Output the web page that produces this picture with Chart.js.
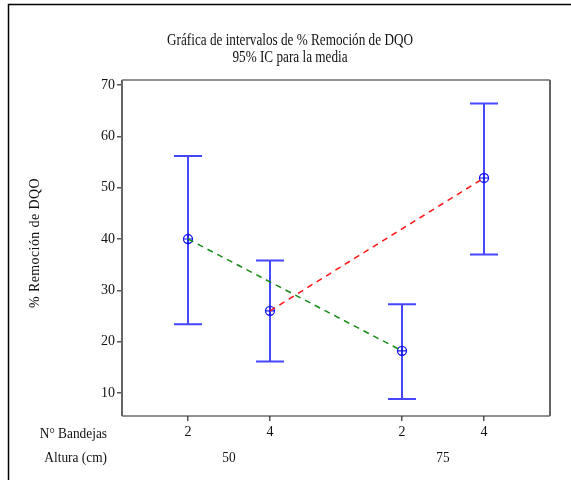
<!DOCTYPE html>
<html>
<head>
<meta charset="utf-8">
<script src="https://cdn.jsdelivr.net/npm/chart.js@4"></script>
<style>
html,body{margin:0;padding:0;background:#fff;}
canvas{display:block;}
</style>
</head>
<body>
<canvas id="c" width="571" height="480"></canvas>
<script>
// ---- data ----
const bandejas = ["2", "4", "2", "4"];
const alturas = ["50", "75"];
const groupPos = [1, 2, 3.61, 4.61];
const means = [40.0, 26.0, 18.2, 51.9];
const lower = [23.4, 16.1, 8.8, 37.0];
const upper = [56.2, 35.8, 27.3, 66.4];
const yTicks = [10, 20, 30, 40, 50, 60, 70];
const titleLines = ["Gráfica de intervalos de % Remoción de DQO", "95% IC para la media"];
const yTitle = "% Remoción de DQO";
const rowLabels = ["N° Bandejas", "Altura (cm)"];

const SERIF = '"Liberation Serif", "Times New Roman", serif';
const BLUE = "rgb(70,70,255)";

function scaledText(ctx, text, x, y, size, sx, align) {
  ctx.save();
  ctx.translate(x, y);
  ctx.scale(sx, 1);
  ctx.font = size + "px " + SERIF;
  ctx.textAlign = align;
  ctx.textBaseline = "middle";
  ctx.fillText(text, 0, 0);
  ctx.restore();
}

const errPlugin = {
  id: "err",
  beforeDatasetsDraw(chart) {
    const {ctx, scales: {x, y}} = chart;
    ctx.save();
    ctx.strokeStyle = BLUE;
    ctx.lineWidth = 2;
    for (let i = 0; i < groupPos.length; i++) {
      const px = x.getPixelForValue(groupPos[i]);
      const pl = y.getPixelForValue(lower[i]);
      const pu = y.getPixelForValue(upper[i]);
      ctx.beginPath();
      ctx.moveTo(px, pl); ctx.lineTo(px, pu);
      ctx.moveTo(px - 14, pl); ctx.lineTo(px + 14, pl);
      ctx.moveTo(px - 14, pu); ctx.lineTo(px + 14, pu);
      ctx.stroke();
    }
    ctx.restore();
  },
  afterDraw(chart) {
    const {ctx, chartArea: a, scales: {x}} = chart;
    ctx.save();
    // outer frame
    ctx.strokeStyle = "#000";
    ctx.lineWidth = 1.5;
    ctx.beginPath();
    ctx.moveTo(8.5, 490); ctx.lineTo(8.5, 4.5); ctx.lineTo(580, 4.5);
    ctx.stroke();
    // plot box
    ctx.strokeStyle = "#222";
    ctx.lineWidth = 1.2;
    ctx.beginPath();
    ctx.moveTo(a.left, a.top); ctx.lineTo(a.right, a.top);
    ctx.moveTo(a.left, a.bottom); ctx.lineTo(a.right, a.bottom);
    ctx.stroke();
    ctx.strokeStyle = "#666";
    ctx.lineWidth = 2;
    ctx.beginPath();
    ctx.moveTo(a.left, a.top); ctx.lineTo(a.left, a.bottom);
    ctx.moveTo(a.right, a.top); ctx.lineTo(a.right, a.bottom);
    ctx.stroke();
    // titles
    ctx.fillStyle = "#111";
    scaledText(ctx, titleLines[0], 290, 41, 16.5, 0.8, "center");
    scaledText(ctx, titleLines[1], 290, 58, 16.5, 0.8, "center");
    // y title
    ctx.save();
    ctx.translate(35, 243);
    ctx.rotate(-Math.PI / 2);
    ctx.font = "14px " + SERIF;
    ctx.letterSpacing = "0.4px";
    ctx.textAlign = "center";
    ctx.textBaseline = "middle";
    ctx.fillText(yTitle, 0, 0);
    ctx.restore();
    // row labels
    scaledText(ctx, rowLabels[0], 107, 434, 15, 0.89, "right");
    scaledText(ctx, rowLabels[1], 107, 458, 15, 0.89, "right");
    // altura labels
    for (let g = 0; g < alturas.length; g++) {
      const c = (groupPos[2 * g] + groupPos[2 * g + 1]) / 2;
      scaledText(ctx, alturas[g], x.getPixelForValue(c), 458, 15, 0.89, "center");
    }
    ctx.restore();
  }
};

new Chart(document.getElementById("c"), {
  type: "scatter",
  data: {
    datasets: [
      {
        data: [{x: groupPos[0], y: means[0]}, {x: groupPos[2], y: means[2]}],
        showLine: true, borderColor: "rgb(20,140,20)", borderWidth: 1.5,
        borderDash: [6, 5], pointRadius: 0
      },
      {
        data: [{x: groupPos[1], y: means[1]}, {x: groupPos[3], y: means[3]}],
        showLine: true, borderColor: "rgb(255,20,20)", borderWidth: 1.5,
        borderDash: [6, 5], pointRadius: 0
      },
      {
        data: groupPos.map((p, i) => ({x: p, y: means[i]})),
        pointStyle: "circle", pointRadius: 4.5, borderColor: "rgb(20,20,240)",
        backgroundColor: "rgba(0,0,0,0)", borderWidth: 1.3
      },
      {
        data: groupPos.map((p, i) => ({x: p, y: means[i]})),
        pointStyle: "cross", pointRadius: 5, borderColor: "rgb(20,20,240)",
        borderWidth: 1.2
      }
    ]
  },
  options: {
    responsive: false,
    animation: false,
    events: [],
    layout: {padding: {left: 80, top: 80, right: 21, bottom: 34}},
    plugins: {legend: {display: false}, tooltip: {enabled: false}, title: {display: false}},
    scales: {
      x: {
        type: "linear", min: 0.195, max: 5.415,
        afterFit: s => { s.height = 30; },
        afterBuildTicks: s => { s.ticks = groupPos.map(v => ({value: v})); },
        grid: {drawOnChartArea: false, tickLength: 5, color: "#555", lineWidth: 1.5},
        border: {display: false},
        ticks: {
          autoSkip: false, maxRotation: 0, padding: 3,
          color: "#111", font: {family: SERIF, size: 14},
          callback: (v, i) => bandejas[i]
        }
      },
      y: {
        min: 5.5, max: 71,
        afterFit: s => { s.width = 42; },
        afterBuildTicks: s => { s.ticks = yTicks.map(v => ({value: v})); },
        grid: {drawOnChartArea: false, tickLength: 5, color: "#555", lineWidth: 1.5},
        border: {display: false},
        ticks: {
          padding: 2, color: "#111", font: {family: SERIF, size: 14},
          callback: v => String(v)
        }
      }
    }
  },
  plugins: [errPlugin]
});
</script>
</body>
</html>
